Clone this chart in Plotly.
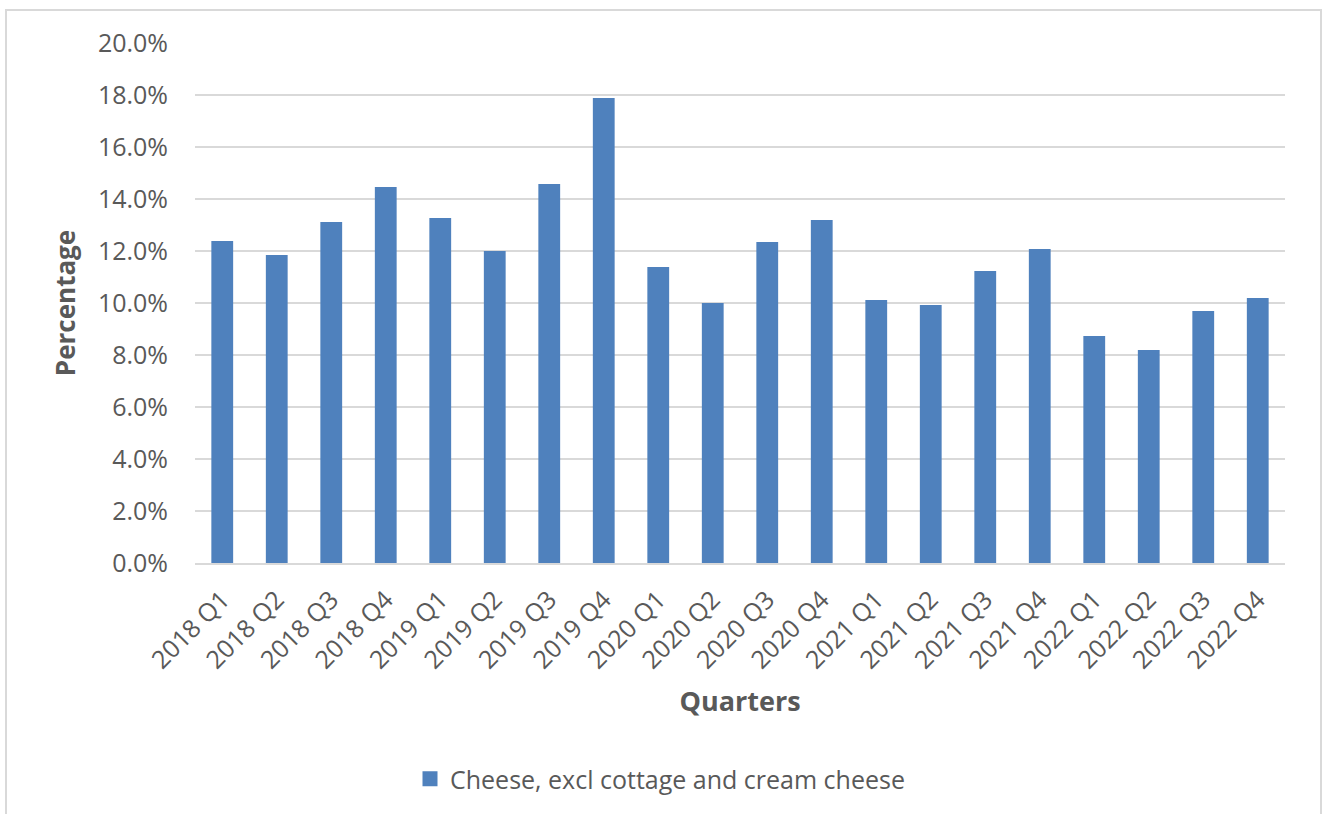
import plotly.graph_objects as go

quarters = ["2018 Q1", "2018 Q2", "2018 Q3", "2018 Q4",
            "2019 Q1", "2019 Q2", "2019 Q3", "2019 Q4",
            "2020 Q1", "2020 Q2", "2020 Q3", "2020 Q4",
            "2021 Q1", "2021 Q2", "2021 Q3", "2021 Q4",
            "2022 Q1", "2022 Q2", "2022 Q3", "2022 Q4"]
values = [0.1238, 0.1185, 0.1312, 0.1446,
          0.1327, 0.1200, 0.1458, 0.1788,
          0.1138, 0.1000, 0.1235, 0.1319,
          0.1012, 0.0992, 0.1123, 0.1208,
          0.0873, 0.0819, 0.0969, 0.1019]
series_name = "Cheese, excl cottage and cream cheese"
y_ticks = [0.0, 0.02, 0.04, 0.06, 0.08, 0.10, 0.12, 0.14, 0.16, 0.18, 0.20]

FONT = "Open Sans"
TXT = "#595959"
GRID = "#d9d9d9"
BLUE = "#4f81bd"

fig = go.Figure()
fig.add_trace(go.Bar(
    x=quarters, y=values, name=series_name,
    marker=dict(color=BLUE, line=dict(width=0)),
    showlegend=False,
))
# legend entry with a larger square key
fig.add_trace(go.Scatter(
    x=[None], y=[None], mode="markers", name=series_name,
    marker=dict(symbol="square", size=15, color=BLUE),
    showlegend=True,
))

W, H = 1325, 814
L, R, T, B = 195, 1285, 43, 563
pw, ph = R - L, B - T

def px_x(v):
    return (v - L) / pw

def px_y(v):
    return (B - v) / ph

fig.update_layout(
    width=W, height=H,
    margin=dict(l=L, r=W - R, t=T, b=H - B, autoexpand=False),
    paper_bgcolor="white", plot_bgcolor="white",
    bargap=0.6,
    font=dict(family=FONT, color=TXT, size=25),
    showlegend=True,
    legend=dict(
        orientation="h", x=px_x(410), xanchor="left",
        y=px_y(779), yanchor="middle",
        font=dict(family=FONT, size=25, color=TXT),
        itemwidth=30,
    ),
    xaxis=dict(
        tickangle=-45,
        tickfont=dict(family=FONT, size=25, color=TXT),
        showline=True, linecolor=GRID, linewidth=2,
        showgrid=False, ticks="", ticklabelstandoff=10,
        title=dict(text="<b>Quarters</b>", font=dict(family=FONT, size=27, color=TXT), standoff=18),
    ),
    yaxis=dict(
        range=[0, 0.20], tickvals=y_ticks, tickformat=".1%",
        tickfont=dict(family=FONT, size=25, color=TXT),
        showgrid=True, gridcolor=GRID, gridwidth=2,
        zeroline=False, showline=False, ticks="", ticklabelstandoff=26,
        title=dict(text="<b>Percentage</b>", font=dict(family=FONT, size=26, color=TXT), standoff=14),
    ),
    shapes=[dict(
        type="rect", xref="paper", yref="paper",
        x0=px_x(6), x1=px_x(1321), y0=px_y(830), y1=px_y(10),
        line=dict(color=GRID, width=2), fillcolor="rgba(0,0,0,0)", layer="below",
    )],
)

fig.write_html("out.html")
